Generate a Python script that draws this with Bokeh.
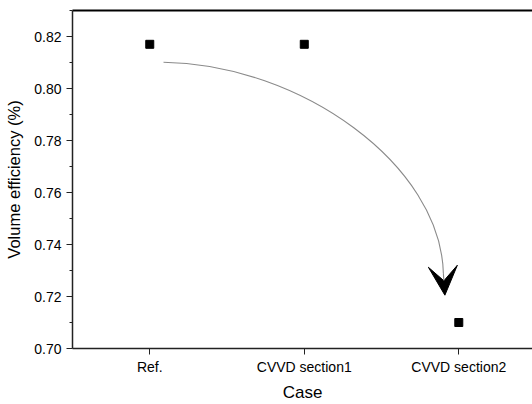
from bokeh.plotting import figure
from bokeh.models import (LinearAxis, FixedTicker, Range1d, Arrow, VeeHead,
                          ColumnDataSource, NumeralTickFormatter)
from bokeh.embed import file_html
from bokeh.resources import INLINE

# Volume efficiency per case
cases = ["Ref.", "CVVD section1", "CVVD section2"]
efficiency = [0.817, 0.817, 0.710]

# Trend arrow: cubic curve (start, two control points, end) and arrow tip
curve_start = (1.089, 0.8101)
curve_ctrl1 = (1.976, 0.8093)
curve_ctrl2 = (2.882, 0.7707)
curve_end = (2.900, 0.7290)
arrow_tip = (2.910, 0.7205)

y_ticks = [0.70, 0.72, 0.74, 0.76, 0.78, 0.80, 0.82]
y_minor = [0.71, 0.73, 0.75, 0.77, 0.79, 0.81, 0.83]

positions = list(range(1, len(cases) + 1))
src = ColumnDataSource(dict(x=positions, y=efficiency))

FONT = "Liberation Sans"

p = figure(width=532, height=404, output_backend="svg", toolbar_location=None,
           x_range=Range1d(0.5, 3.477), y_range=Range1d(0.70, 0.83),
           min_border_left=72, min_border_right=0, min_border_top=10,
           min_border_bottom=54, background_fill_color="white",
           border_fill_color="white", outline_line_color=None)
p.grid.visible = False

# Curved trend line with a barbed head at its end
p.bezier(x0=curve_start[0], y0=curve_start[1], x1=curve_end[0], y1=curve_end[1],
         cx0=curve_ctrl1[0], cy0=curve_ctrl1[1], cx1=curve_ctrl2[0], cy1=curve_ctrl2[1],
         line_color="#8a8a8a", line_width=1.1)
p.add_layout(Arrow(end=VeeHead(size=29, fill_color="black", line_color="black",
                               line_width=1),
                   x_start=curve_end[0], y_start=curve_end[1],
                   x_end=arrow_tip[0], y_end=arrow_tip[1],
                   line_color="#8a8a8a", line_width=1.1))

p.scatter("x", "y", source=src, marker="square", size=8,
          fill_color="black", line_color="black")

# Bottom axis: case names
xa = p.xaxis[0]
xa.ticker = FixedTicker(ticks=positions)
xa.major_label_overrides = {i: c for i, c in zip(positions, cases)}
xa.minor_tick_line_color = None
xa.major_tick_in = 0
xa.major_tick_out = 6
xa.axis_label = "Case"
xa.axis_label_text_font = FONT
xa.axis_label_text_font_size = "17px"
xa.axis_label_text_font_style = "normal"
xa.axis_label_standoff = 5
xa.major_label_text_font = FONT
xa.major_label_text_font_size = "14px"
xa.major_label_standoff = 4

# Left axis: efficiency
ya = p.yaxis[0]
ya.ticker = FixedTicker(ticks=y_ticks, minor_ticks=y_minor)
ya.formatter = NumeralTickFormatter(format="0.00")
ya.major_tick_in = 0
ya.major_tick_out = 6
ya.minor_tick_in = 0
ya.minor_tick_out = 3
ya.axis_label = "Volume efficiency (%)"
ya.axis_label_text_font = FONT
ya.axis_label_text_font_size = "16.5px"
ya.axis_label_text_font_style = "normal"
ya.axis_label_standoff = 8
ya.major_label_text_font = FONT
ya.major_label_text_font_size = "14px"
ya.major_label_standoff = 5

for ax in (xa, ya):
    ax.axis_line_width = 1.5
    ax.axis_line_color = "#222222"
    ax.major_tick_line_color = "#222222"
    ax.major_label_text_color = "black"
    ax.axis_label_text_color = "black"
ya.minor_tick_line_color = "#222222"

# Top frame edge
top = LinearAxis(ticker=FixedTicker(ticks=[]), major_tick_out=0, major_tick_in=0,
                 minor_tick_out=0, minor_tick_in=0,
                 axis_line_width=2, axis_line_color="black")
p.add_layout(top, "above")

open("out.html", "w").write(file_html(p, INLINE))
